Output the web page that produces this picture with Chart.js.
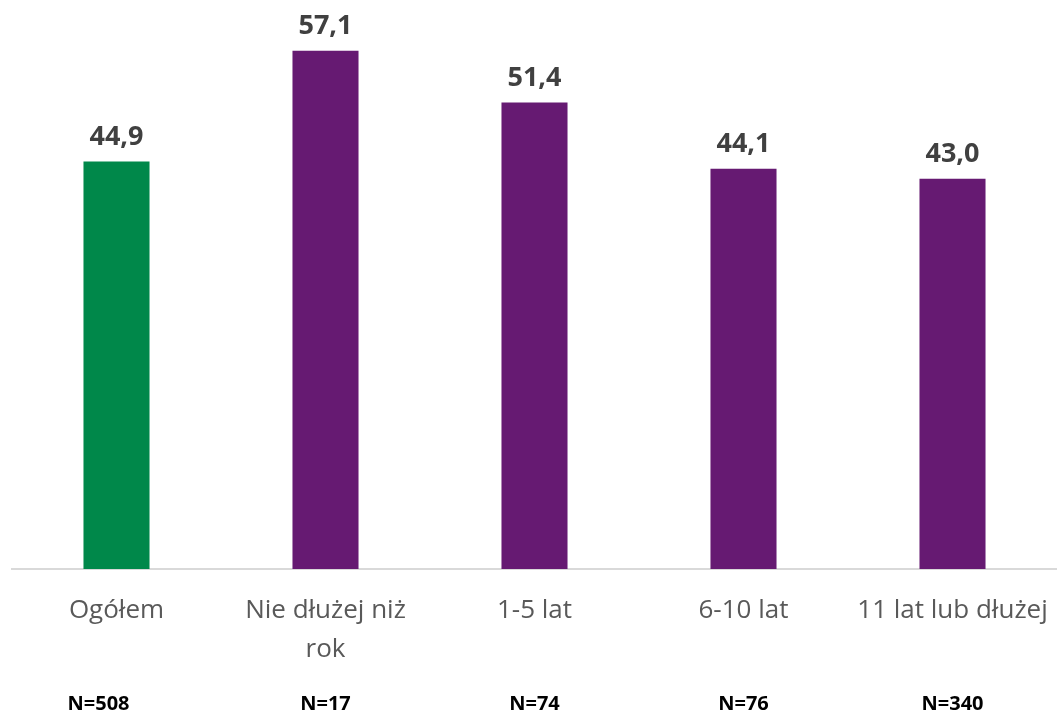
<!DOCTYPE html>
<html>
<head>
<meta charset="utf-8">
<script src="https://cdn.jsdelivr.net/npm/chart.js@4"></script>
<style>
  body { margin: 0; background: #fff; }
  #box { width: 1057px; height: 716px; position: relative; }
</style>
</head>
<body>
<div id="box"><canvas id="myChart"></canvas></div>
<script>
const kategorie = [["Ogółem"], ["Nie dłużej niż", "rok"], ["1-5 lat"], ["6-10 lat"], ["11 lat lub dłużej"]];
const wartosci = [44.9, 57.1, 51.4, 44.1, 43.0];
const liczebnosci = ["N=508", "N=17", "N=74", "N=76", "N=340"];
const kolory = ['#00884a', '#661a72', '#661a72', '#661a72', '#661a72'];

// etykiety wartości nad słupkami i N pod osią
const etykiety = {
    id: 'etykiety',
    afterDatasetsDraw(chart) {
        const ctx = chart.ctx;
        const meta = chart.getDatasetMeta(0);
        ctx.save();
        ctx.textAlign = 'center';
        ctx.textBaseline = 'alphabetic';
        ctx.font = 'bold 27px "Open Sans"';
        ctx.fillStyle = '#404040';
        meta.data.forEach((bar, i) => {
            ctx.fillText(wartosci[i].toFixed(1).replace('.', ','), bar.x, bar.y - 17);
        });
        ctx.font = 'bold 20px "Open Sans"';
        ctx.fillStyle = '#000';
        meta.data.forEach((bar, i) => {
            ctx.fillText(liczebnosci[i], i === 0 ? bar.x - 18 : bar.x, 710);
        });
        ctx.restore();
    }
};

const ctx = document.getElementById('myChart').getContext('2d');
new Chart(ctx, {
    type: 'bar',
    data: {
        labels: kategorie,
        datasets: [{
            data: wartosci,
            backgroundColor: kolory,
            categoryPercentage: 1,
            barPercentage: 0.316
        }]
    },
    options: {
        responsive: true,
        maintainAspectRatio: false,
        animation: false,
        layout: { padding: { left: 12, right: 0, top: 0, bottom: 33 } },
        plugins: { legend: { display: false }, tooltip: { enabled: false } },
        scales: {
            y: { display: false, min: 0, max: 62.7 },
            x: {
                grid: { display: false },
                border: { color: '#d9d9d9', width: 2 },
                afterFit(skala) {
                    skala.paddingLeft = 0;
                    skala.paddingRight = 0;
                },
                ticks: {
                    color: '#595959',
                    font: { family: '"Open Sans"', size: 26, lineHeight: 1.5 },
                    padding: 14,
                    maxRotation: 0,
                    autoSkip: false
                }
            }
        }
    },
    plugins: [etykiety]
});
</script>
</body>
</html>
